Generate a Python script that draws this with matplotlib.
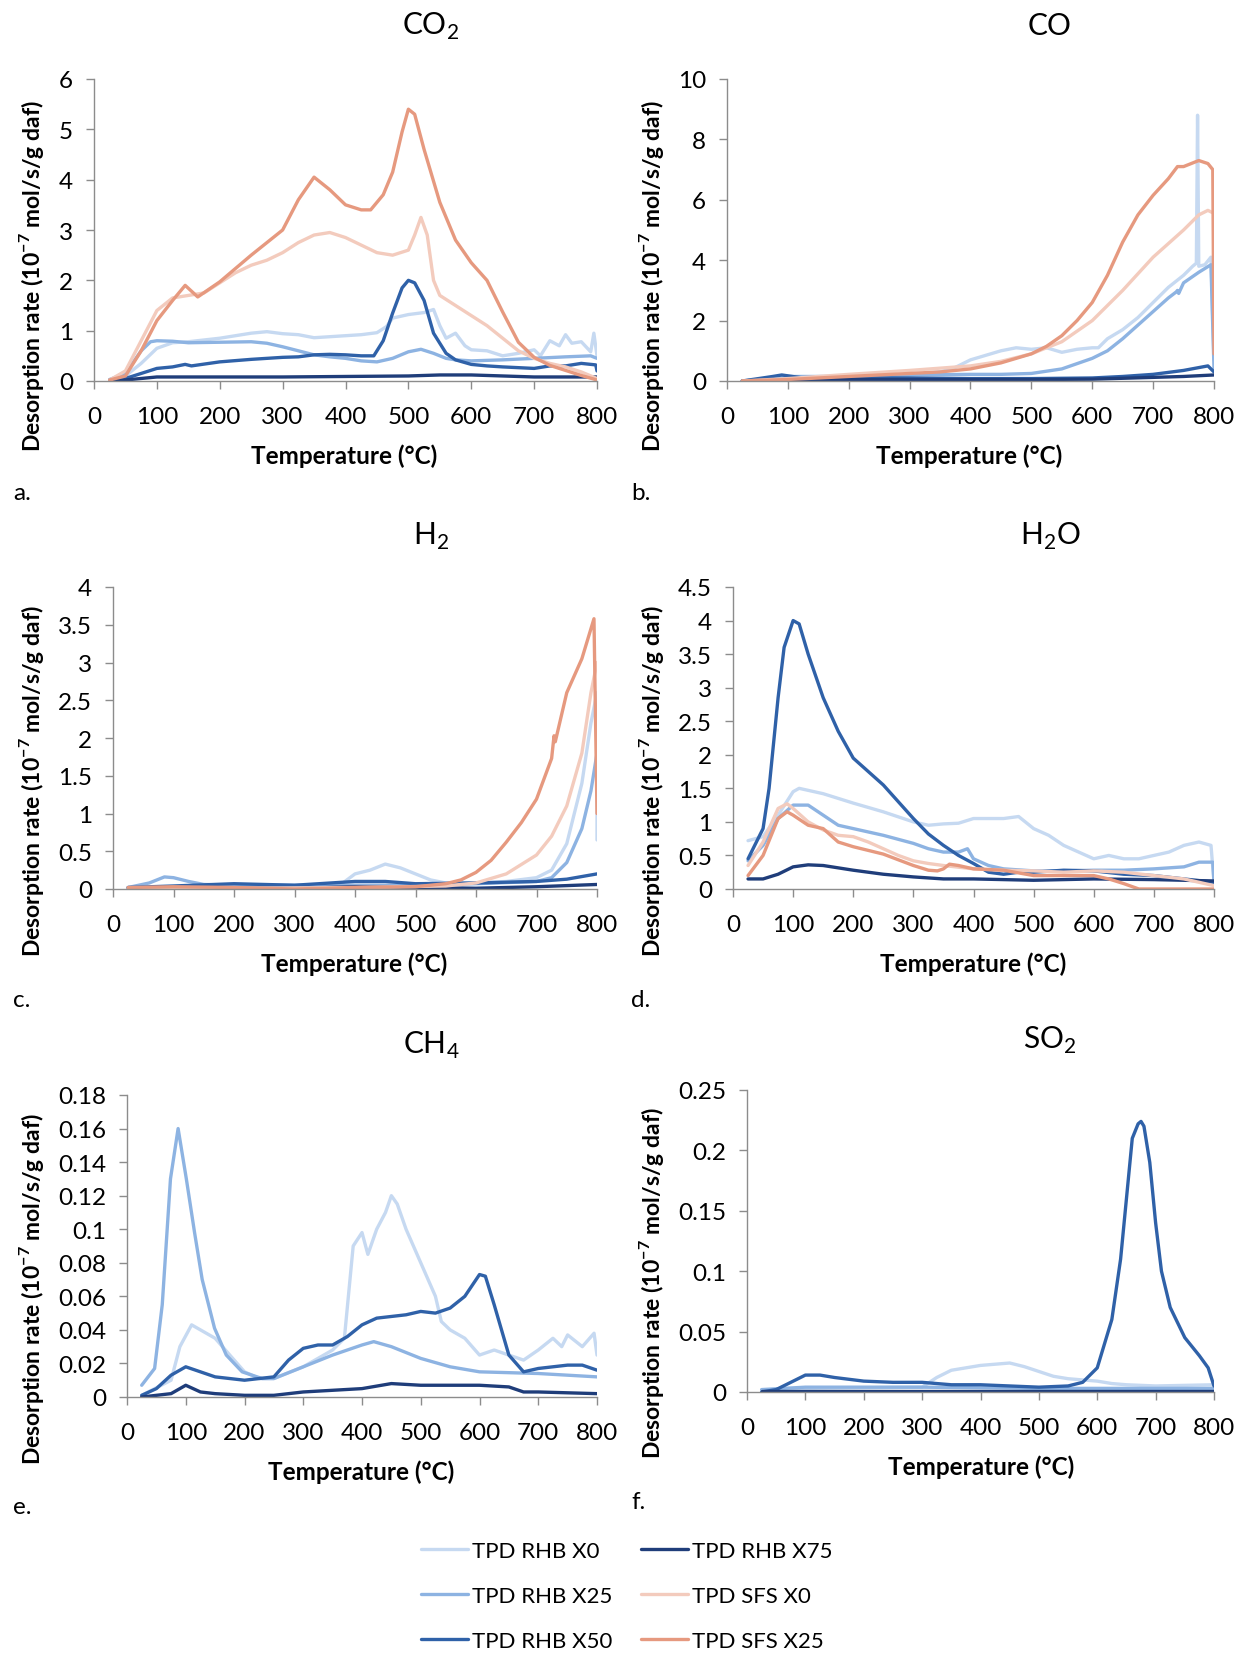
import matplotlib.pyplot as plt
from matplotlib.ticker import FuncFormatter, MultipleLocator

plt.rcParams["font.family"] = ["Lato", "DejaVu Sans"]
plt.rcParams["mathtext.fontset"] = "custom"
plt.rcParams["mathtext.rm"] = "Lato"
plt.rcParams["mathtext.bf"] = "Lato:bold"

LABELS = ["TPD RHB X0", "TPD RHB X25", "TPD RHB X50",
          "TPD RHB X75", "TPD SFS X0", "TPD SFS X25"]
COLORS = ["#c6d9f1", "#8db3e2", "#2f61a8", "#1f3d7a", "#f3cbbd", "#e6997f"]

# ---- CO2 (temperature °C, rate 1e-7 mol/s/g daf) ----
CO2_RHB_X0 = [(25, 0.02), (50, 0.1), (75, 0.35), (100, 0.65), (125, 0.76), (150, 0.78), (200, 0.85),
              (250, 0.95), (275, 0.98), (300, 0.94), (325, 0.92), (350, 0.86), (375, 0.88), (400, 0.9),
              (425, 0.92), (450, 0.96), (465, 1.08), (475, 1.25), (500, 1.32), (525, 1.36), (540, 1.42),
              (550, 1.1), (560, 0.85), (575, 0.95), (590, 0.7), (600, 0.62), (625, 0.6), (650, 0.5),
              (675, 0.55), (700, 0.62), (710, 0.5), (725, 0.8), (740, 0.7), (750, 0.92), (760, 0.75),
              (775, 0.78), (790, 0.58), (795, 0.95), (800, 0.5)]
CO2_RHB_X25 = [(25, 0.03), (50, 0.15), (75, 0.6), (90, 0.78), (100, 0.8), (125, 0.79), (150, 0.76),
               (200, 0.77), (250, 0.78), (275, 0.75), (300, 0.68), (325, 0.6), (350, 0.52), (375, 0.48),
               (400, 0.45), (425, 0.4), (450, 0.38), (475, 0.45), (500, 0.58), (520, 0.63), (540, 0.55),
               (560, 0.45), (575, 0.42), (600, 0.4), (650, 0.42), (700, 0.45), (750, 0.48), (790, 0.5),
               (800, 0.45)]
CO2_RHB_X50 = [(25, 0.02), (50, 0.05), (75, 0.15), (100, 0.25), (125, 0.28), (145, 0.33), (155, 0.3),
               (200, 0.38), (250, 0.43), (300, 0.47), (325, 0.48), (350, 0.52), (375, 0.53), (400, 0.52),
               (425, 0.5), (445, 0.5), (460, 0.8), (475, 1.35), (490, 1.85), (500, 2.0), (510, 1.95),
               (525, 1.6), (540, 0.95), (560, 0.55), (575, 0.42), (600, 0.33), (625, 0.3), (650, 0.28),
               (700, 0.25), (725, 0.3), (750, 0.3), (775, 0.35), (798, 0.32), (800, 0.2)]
CO2_RHB_X75 = [(25, 0.0), (50, 0.02), (75, 0.05), (100, 0.08), (200, 0.08), (300, 0.08), (400, 0.09),
               (500, 0.1), (550, 0.12), (600, 0.12), (650, 0.1), (700, 0.08), (800, 0.08)]
CO2_SFS_X0 = [(25, 0.02), (50, 0.2), (75, 0.8), (100, 1.4), (125, 1.65), (150, 1.7), (175, 1.75),
              (200, 1.95), (225, 2.15), (250, 2.3), (275, 2.4), (300, 2.55), (325, 2.75), (350, 2.9),
              (375, 2.95), (400, 2.85), (425, 2.7), (450, 2.55), (475, 2.5), (500, 2.6), (510, 2.9),
              (520, 3.25), (530, 2.9), (540, 2.0), (550, 1.7), (575, 1.5), (600, 1.3), (625, 1.1),
              (650, 0.85), (675, 0.6), (700, 0.45), (725, 0.35), (750, 0.28), (775, 0.18), (800, 0.05)]
CO2_SFS_X25 = [(25, 0.02), (50, 0.1), (75, 0.6), (100, 1.2), (125, 1.6), (145, 1.9), (165, 1.67),
               (200, 1.97), (250, 2.5), (300, 3.0), (325, 3.6), (350, 4.05), (375, 3.8), (400, 3.5),
               (425, 3.4), (440, 3.4), (460, 3.7), (475, 4.15), (490, 4.95), (500, 5.4), (510, 5.3),
               (525, 4.6), (550, 3.55), (575, 2.8), (600, 2.35), (625, 2.0), (650, 1.37), (675, 0.77),
               (700, 0.47), (725, 0.31), (750, 0.21), (775, 0.11), (800, 0.02)]

# ---- CO ----
CO_RHB_X0 = [(25, 0.0), (100, 0.1), (200, 0.15), (300, 0.2), (350, 0.3), (375, 0.45), (400, 0.7),
             (425, 0.85), (450, 1.0), (475, 1.1), (500, 1.05), (525, 1.1), (550, 0.95), (575, 1.05),
             (600, 1.1), (610, 1.1), (625, 1.4), (650, 1.7), (675, 2.1), (700, 2.6), (725, 3.1),
             (750, 3.5), (765, 3.8), (771, 3.9), (773, 8.8), (775, 3.8), (785, 3.85), (795, 4.1),
             (800, 0.7)]
CO_RHB_X25 = [(25, 0.0), (100, 0.15), (200, 0.15), (300, 0.2), (400, 0.22), (450, 0.22), (500, 0.25),
              (550, 0.4), (600, 0.75), (625, 1.0), (650, 1.4), (675, 1.85), (700, 2.3), (725, 2.75),
              (738, 2.95), (740, 3.0), (742, 2.9), (750, 3.25), (775, 3.6), (795, 3.85), (800, 0.4)]
CO_RHB_X50 = [(25, 0.0), (75, 0.15), (90, 0.2), (125, 0.1), (200, 0.1), (300, 0.1), (400, 0.08),
              (500, 0.08), (600, 0.1), (650, 0.15), (700, 0.22), (750, 0.35), (790, 0.5), (800, 0.3)]
CO_RHB_X75 = [(25, 0.0), (100, 0.05), (300, 0.05), (500, 0.05), (600, 0.06), (700, 0.12), (750, 0.15),
              (800, 0.2)]
CO_SFS_X0 = [(25, 0.0), (100, 0.08), (200, 0.22), (300, 0.35), (400, 0.5), (450, 0.65), (500, 0.9),
             (550, 1.3), (600, 2.0), (650, 3.0), (700, 4.1), (750, 5.0), (775, 5.5), (790, 5.65),
             (800, 5.55)]
CO_SFS_X25 = [(25, 0.0), (100, 0.05), (200, 0.15), (300, 0.25), (350, 0.3), (400, 0.4), (450, 0.6),
              (500, 0.9), (525, 1.15), (550, 1.5), (575, 2.0), (600, 2.6), (625, 3.5), (650, 4.6),
              (675, 5.5), (700, 6.15), (725, 6.7), (740, 7.1), (750, 7.1), (775, 7.3), (790, 7.2),
              (798, 7.0), (800, 0.9)]

# ---- H2 ----
H2_RHB_X0 = [(25, 0.02), (100, 0.02), (300, 0.02), (375, 0.05), (400, 0.2), (425, 0.25), (450, 0.33),
             (475, 0.28), (500, 0.2), (525, 0.12), (550, 0.08), (600, 0.08), (650, 0.1), (700, 0.15),
             (725, 0.25), (750, 0.6), (775, 1.4), (790, 2.2), (800, 2.6), (800, 0.65)]
H2_RHB_X25 = [(25, 0.02), (60, 0.08), (85, 0.16), (100, 0.15), (125, 0.1), (150, 0.06), (200, 0.05),
              (300, 0.05), (400, 0.05), (500, 0.05), (600, 0.07), (700, 0.1), (725, 0.15), (750, 0.35),
              (775, 0.8), (790, 1.3), (800, 1.8)]
H2_RHB_X50 = [(25, 0.02), (100, 0.04), (200, 0.07), (300, 0.05), (400, 0.1), (450, 0.1), (500, 0.07),
              (600, 0.08), (700, 0.1), (750, 0.13), (800, 0.2)]
H2_RHB_X75 = [(25, 0.0), (100, 0.01), (300, 0.01), (400, 0.03), (500, 0.02), (600, 0.01), (700, 0.03),
              (800, 0.06)]
H2_SFS_X0 = [(25, 0.0), (200, 0.01), (400, 0.02), (550, 0.04), (600, 0.08), (650, 0.2), (700, 0.45),
             (725, 0.7), (750, 1.1), (775, 1.8), (790, 2.6), (800, 3.0)]
H2_SFS_X25 = [(25, 0.02), (100, 0.03), (200, 0.02), (300, 0.0), (400, 0.02), (500, 0.03), (550, 0.07),
              (575, 0.12), (600, 0.22), (625, 0.38), (650, 0.62), (675, 0.88), (700, 1.19), (725, 1.73),
              (729, 2.03), (731, 1.95), (750, 2.6), (775, 3.05), (795, 3.58), (800, 1.0)]

# ---- H2O ----
H2O_RHB_X0 = [(25, 0.72), (50, 0.78), (75, 1.1), (100, 1.45), (110, 1.5), (150, 1.42), (200, 1.28),
              (250, 1.15), (300, 1.0), (325, 0.95), (350, 0.97), (375, 0.98), (400, 1.05), (425, 1.05),
              (450, 1.05), (475, 1.08), (500, 0.9), (525, 0.8), (550, 0.65), (575, 0.55), (600, 0.45),
              (625, 0.5), (650, 0.45), (675, 0.45), (700, 0.5), (725, 0.55), (750, 0.65), (775, 0.7),
              (795, 0.65), (800, 0.1)]
H2O_RHB_X25 = [(25, 0.42), (50, 0.65), (75, 1.05), (100, 1.25), (125, 1.25), (150, 1.1), (175, 0.95),
               (200, 0.9), (250, 0.8), (300, 0.68), (325, 0.6), (350, 0.55), (375, 0.55), (390, 0.6),
               (400, 0.45), (425, 0.35), (450, 0.3), (500, 0.27), (550, 0.27), (600, 0.28), (650, 0.28),
               (700, 0.3), (750, 0.33), (775, 0.4), (798, 0.4), (800, 0.1)]
H2O_RHB_X50 = [(25, 0.45), (50, 0.9), (60, 1.5), (75, 2.85), (85, 3.6), (100, 4.0), (110, 3.95),
               (125, 3.5), (150, 2.85), (175, 2.35), (200, 1.95), (225, 1.75), (250, 1.55), (275, 1.3),
               (300, 1.05), (325, 0.82), (350, 0.65), (375, 0.5), (400, 0.38), (425, 0.25), (450, 0.22),
               (475, 0.25), (500, 0.25), (550, 0.28), (600, 0.27), (650, 0.22), (700, 0.2), (750, 0.15),
               (800, 0.1)]
H2O_RHB_X75 = [(25, 0.15), (50, 0.15), (75, 0.22), (100, 0.33), (125, 0.36), (150, 0.35), (200, 0.28),
               (250, 0.22), (300, 0.18), (350, 0.15), (400, 0.15), (500, 0.13), (600, 0.15), (700, 0.14),
               (800, 0.12)]
H2O_SFS_X0 = [(25, 0.35), (50, 0.7), (75, 1.2), (90, 1.27), (100, 1.2), (125, 1.0), (150, 0.88),
              (175, 0.8), (200, 0.78), (225, 0.7), (250, 0.6), (275, 0.5), (300, 0.42), (325, 0.38),
              (350, 0.35), (400, 0.3), (450, 0.28), (500, 0.27), (550, 0.25), (600, 0.27), (650, 0.25),
              (700, 0.2), (750, 0.15), (800, 0.05)]
H2O_SFS_X25 = [(25, 0.2), (50, 0.5), (75, 1.05), (90, 1.15), (100, 1.1), (125, 0.95), (140, 0.92),
               (150, 0.9), (175, 0.7), (200, 0.63), (250, 0.52), (300, 0.35), (325, 0.28), (340, 0.27),
               (350, 0.3), (360, 0.37), (375, 0.35), (400, 0.3), (450, 0.28), (500, 0.2), (550, 0.2),
               (600, 0.2), (625, 0.15), (650, 0.08), (675, 0.0), (700, 0.0), (800, 0.0)]

# ---- CH4 ----
CH4_RHB_X0 = [(25, 0.001), (75, 0.01), (90, 0.03), (110, 0.043), (125, 0.04), (150, 0.035),
              (175, 0.025), (200, 0.015), (225, 0.011), (250, 0.011), (300, 0.018), (350, 0.028),
              (370, 0.035), (385, 0.09), (400, 0.098), (410, 0.085), (425, 0.1), (440, 0.11),
              (450, 0.12), (460, 0.115), (475, 0.1), (500, 0.08), (525, 0.06), (535, 0.045),
              (550, 0.04), (575, 0.035), (600, 0.025), (625, 0.028), (650, 0.025), (675, 0.022),
              (700, 0.028), (725, 0.035), (740, 0.03), (750, 0.037), (775, 0.03), (795, 0.038),
              (800, 0.025)]
CH4_RHB_X25 = [(25, 0.007), (47, 0.017), (60, 0.055), (74, 0.13), (87, 0.16), (101, 0.13), (115, 0.098),
               (128, 0.07), (149, 0.041), (169, 0.025), (196, 0.015), (230, 0.011), (250, 0.011),
               (300, 0.018), (350, 0.025), (400, 0.031), (420, 0.033), (450, 0.03), (500, 0.023),
               (550, 0.018), (600, 0.015), (700, 0.014), (800, 0.012)]
CH4_RHB_X50 = [(25, 0.001), (50, 0.005), (75, 0.013), (100, 0.018), (125, 0.015), (150, 0.012),
               (200, 0.01), (250, 0.012), (275, 0.022), (300, 0.029), (325, 0.031), (350, 0.031),
               (375, 0.036), (400, 0.043), (425, 0.047), (450, 0.048), (475, 0.049), (500, 0.051),
               (525, 0.05), (550, 0.053), (575, 0.06), (600, 0.073), (610, 0.072), (625, 0.055),
               (650, 0.025), (675, 0.015), (700, 0.017), (725, 0.018), (750, 0.019), (775, 0.019),
               (800, 0.016)]
CH4_RHB_X75 = [(25, 0.0), (75, 0.002), (100, 0.007), (125, 0.003), (150, 0.002), (200, 0.001),
               (250, 0.001), (300, 0.003), (350, 0.004), (400, 0.005), (450, 0.008), (500, 0.007),
               (550, 0.007), (600, 0.007), (650, 0.006), (675, 0.003), (700, 0.003), (800, 0.002)]

# ---- SO2 ----
SO2_RHB_X0 = [(25, 0.0), (100, 0.003), (300, 0.004), (325, 0.012), (350, 0.018), (375, 0.02),
              (400, 0.022), (450, 0.024), (475, 0.021), (500, 0.017), (525, 0.013), (550, 0.011),
              (575, 0.01), (600, 0.009), (625, 0.007), (650, 0.006), (700, 0.005), (800, 0.006)]
SO2_RHB_X25 = [(25, 0.002), (100, 0.004), (300, 0.004), (500, 0.003), (600, 0.003), (800, 0.003)]
SO2_RHB_X50 = [(25, 0.0), (50, 0.002), (75, 0.008), (100, 0.014), (125, 0.014), (150, 0.012),
               (200, 0.009), (250, 0.008), (300, 0.008), (350, 0.006), (400, 0.006), (450, 0.005),
               (500, 0.004), (550, 0.005), (575, 0.008), (600, 0.02), (625, 0.06), (640, 0.11),
               (650, 0.16), (660, 0.21), (670, 0.222), (675, 0.224), (680, 0.22), (690, 0.19),
               (700, 0.14), (710, 0.1), (725, 0.07), (750, 0.045), (775, 0.03), (790, 0.02), (800, 0.005)]
SO2_RHB_X75 = [(25, 0.001), (400, 0.001), (800, 0.001)]

W, H = 1244, 1656
fig = plt.figure(figsize=(W / 100, H / 100), dpi=100)

panels = [
    # rect px (left, top, right, bottom), title, ymax, ystep, series, letter
    ((94, 80, 597, 382), r"CO$_\mathregular{2}$", 6, 1,
     [CO2_RHB_X0, CO2_RHB_X25, CO2_RHB_X50, CO2_RHB_X75, CO2_SFS_X0, CO2_SFS_X25], "a."),
    ((727, 80, 1214, 382), "CO", 10, 2,
     [CO_RHB_X0, CO_RHB_X25, CO_RHB_X50, CO_RHB_X75, CO_SFS_X0, CO_SFS_X25], "b."),
    ((113, 588, 597, 890), r"H$_\mathregular{2}$", 4, 0.5,
     [H2_RHB_X0, H2_RHB_X25, H2_RHB_X50, H2_RHB_X75, H2_SFS_X0, H2_SFS_X25], "c."),
    ((733, 588, 1214, 890), r"H$_\mathregular{2}$O", 4.5, 0.5,
     [H2O_RHB_X0, H2O_RHB_X25, H2O_RHB_X50, H2O_RHB_X75, H2O_SFS_X0, H2O_SFS_X25], "d."),
    ((127, 1096, 597, 1398), r"CH$_\mathregular{4}$", 0.18, 0.02,
     [CH4_RHB_X0, CH4_RHB_X25, CH4_RHB_X50, CH4_RHB_X75, None, None], "e."),
    ((747, 1091, 1214, 1393), r"SO$_\mathregular{2}$", 0.25, 0.05,
     [SO2_RHB_X0, SO2_RHB_X25, SO2_RHB_X50, SO2_RHB_X75, None, None], "f."),
]

title_y = [26, 26, 536, 536, 1045, 1040]
xlab_pos = [(344, 456), (969, 456), (354, 964), (973, 964), (361, 1472), (981, 1467)]
ylab_pos = [(32, 276), (651, 276), (32, 781), (651, 781), (32, 1289), (651, 1283)]
letter_pos = [(13, 493), (631, 493), (13, 1001), (631, 1001), (13, 1508), (631, 1503)]

handles = []
for i, (rect, title, ymax, ystep, series, letter) in enumerate(panels):
    l, t, r, b = rect
    ax = fig.add_axes([l / W, 1 - b / H, (r - l) / W, (b - t) / H])
    for k, data in enumerate(series):
        if data is None:
            continue
        xs = [p[0] for p in data]
        ys = [p[1] for p in data]
        line, = ax.plot(xs, ys, color=COLORS[k], lw=2.4, solid_joinstyle="round",
                        solid_capstyle="round", label=LABELS[k])
        if i == 0:
            handles.append(line)
    ax.set_xlim(0, 800)
    ax.set_ylim(0, ymax)
    ax.xaxis.set_major_locator(MultipleLocator(100))
    ax.yaxis.set_major_locator(MultipleLocator(ystep))
    ax.yaxis.set_major_formatter(FuncFormatter(lambda v, _: f"{round(v, 4):g}"))
    for side in ("top", "right"):
        ax.spines[side].set_visible(False)
    for side in ("left", "bottom"):
        ax.spines[side].set_color("#8c8c8c")
        ax.spines[side].set_linewidth(1.0)
    ax.tick_params(direction="out", length=6, width=1, color="#8c8c8c",
                   labelsize=17.5)
    ax.tick_params(axis="x", pad=12)
    ax.tick_params(axis="y", pad=9)

    fig.text(431 / W if i % 2 == 0 else 1050 / W, 1 - title_y[i] / H, title,
             ha="center", va="center", fontsize=21.5)
    fig.text(xlab_pos[i][0] / W, 1 - xlab_pos[i][1] / H, "Temperature (°C)",
             ha="center", va="center", fontsize=17.5, fontweight="bold")
    fig.text(ylab_pos[i][0] / W, 1 - ylab_pos[i][1] / H,
             r"Desorption rate (10$^{\mathbf{-7}}$ mol/s/g daf)",
             ha="center", va="center", rotation=90, fontsize=16.5, fontweight="bold")
    fig.text(letter_pos[i][0] / W, 1 - letter_pos[i][1] / H, letter,
             ha="left", va="center", fontsize=17.5)

fig.legend(handles=handles, loc="upper left", bbox_to_anchor=(412 / W, 1 - 1533 / H),
           ncol=2, frameon=False, fontsize=16, handlelength=2.1, handletextpad=0.2,
           columnspacing=1.3, labelspacing=1.13, borderaxespad=0)

fig.savefig("out.png", dpi=100)
